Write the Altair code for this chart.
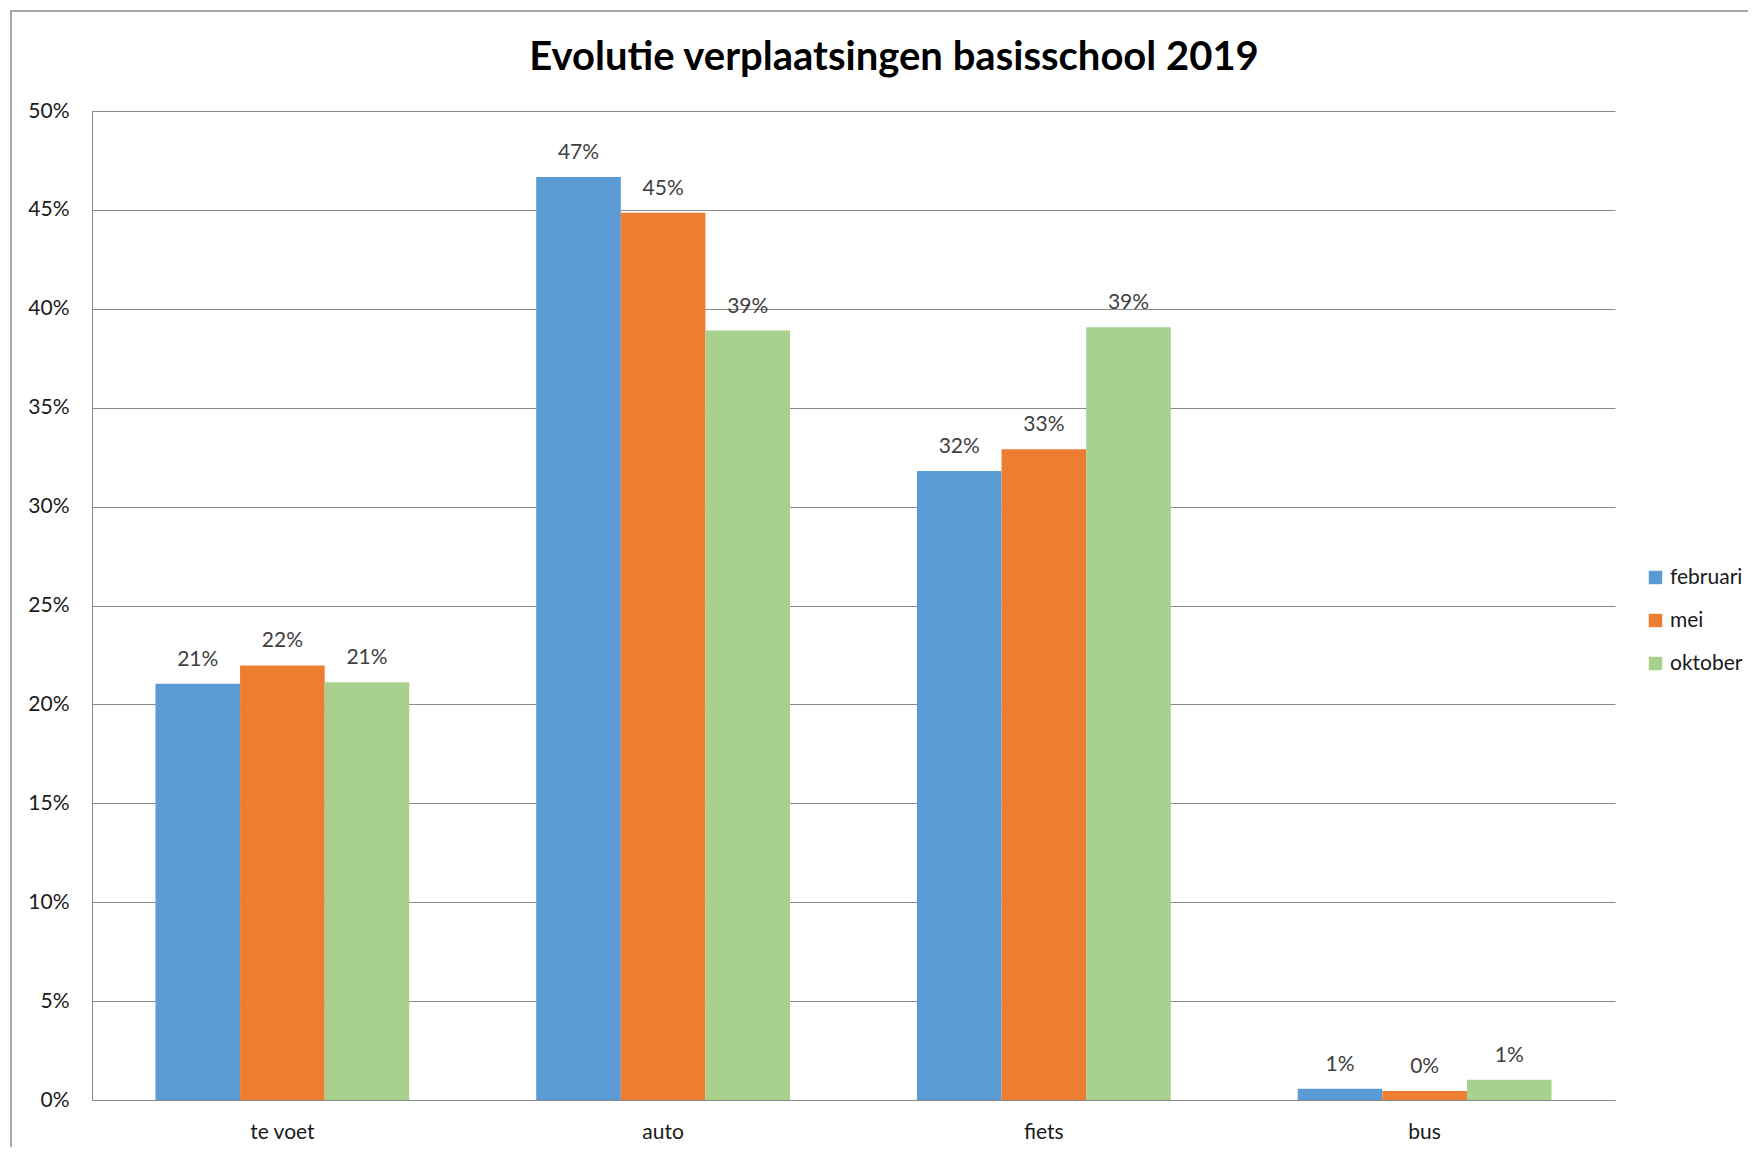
import altair as alt
import pandas as pd

categories = ["te voet", "auto", "fiets", "bus"]
months = ["februari", "mei", "oktober"]
februari = [0.2105, 0.4666, 0.318, 0.0057]
mei = [0.2197, 0.4485, 0.329, 0.0045]
oktober = [0.2112, 0.389, 0.3907, 0.0102]
colors = ["#5B9BD5", "#ED7D31", "#A9D18E"]
y_ticks = [0, 0.05, 0.10, 0.15, 0.20, 0.25, 0.30, 0.35, 0.40, 0.45, 0.50]
title_text = ["Evolutie verplaatsingen basisschool 2019"]

rows = []
for i, c in enumerate(categories):
    for m, series in zip(months, [februari, mei, oktober]):
        rows.append({"categorie": c, "maand": m, "aandeel": series[i]})
df = pd.DataFrame(rows)

FONT = "Lato"
GRID = "#8a8a8a"
W, H = 1523, 989

x = alt.X(
    "categorie:N", sort=categories,
    scale=alt.Scale(paddingInner=1 / 3, paddingOuter=1 / 6),
    axis=alt.Axis(title=None, labelAngle=0, ticks=False, domainColor=GRID,
                  labelFontSize=21, labelPadding=21, labelColor="#1a1a1a", grid=False),
)
xo = alt.XOffset("maand:N", sort=months, scale=alt.Scale(paddingInner=0, paddingOuter=0))
y = alt.Y(
    "aandeel:Q",
    scale=alt.Scale(domain=[0, 0.5], nice=False),
    axis=alt.Axis(title=None, format=".0%", values=y_ticks, grid=True, gridColor=GRID,
                  gridOpacity=1, ticks=False, domainColor=GRID, labelFontSize=21,
                  labelPadding=23, labelColor="#1a1a1a"),
)
color = alt.Color(
    "maand:N", sort=months,
    scale=alt.Scale(domain=months, range=colors),
    legend=alt.Legend(title=None, orient="none", legendX=1553, legendY=456,
                      symbolType="square", symbolSize=180, labelFontSize=21,
                      labelOffset=4, labelColor="#1a1a1a", rowPadding=21,
                      symbolStrokeWidth=0, symbolOpacity=1),
)

bars = alt.Chart(df).mark_bar(opacity=1).encode(x=x, xOffset=xo, y=y, color=color)
labels = alt.Chart(df).mark_text(
    baseline="alphabetic", dy=-18, fontSize=21, color="#404040", font=FONT
).encode(x=x, xOffset=xo, y=y, text=alt.Text("aandeel:Q", format=".0%"))

frame = alt.Chart(pd.DataFrame({"k": [0]})).mark_rect(
    fillOpacity=0, stroke="#8c8c8c", strokeWidth=1.5, clip=False
).encode(x=alt.value(-81), x2=alt.value(1800), y=alt.value(-100), y2=alt.value(1300))

title = alt.Chart(pd.DataFrame({"titel": title_text})).mark_text(
    fontSize=40, fontWeight="bold", font=FONT, color="#000000",
    align="center", baseline="middle", clip=False
).encode(text="titel:N", x=alt.value(802), y=alt.value(-53))

chart = alt.layer(frame, bars, labels, title).properties(
    width=W, height=H,
    autosize=alt.AutoSizeParams(type="none"),
    padding={"left": 84, "top": 103, "right": 133, "bottom": 47},
).configure(font=FONT).configure_view(stroke=None)

chart.save("out.html", embed_options={"renderer": "svg", "actions": False})
